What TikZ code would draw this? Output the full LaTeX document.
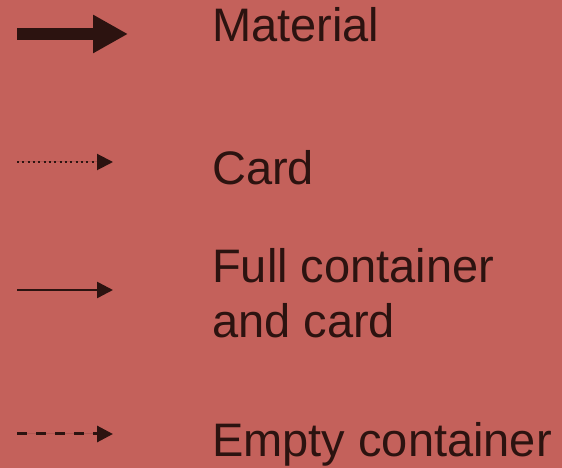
\documentclass[tikz,border=0pt]{standalone}
\usepackage{fontspec}
\setmainfont{Liberation Sans}
\usetikzlibrary{arrows.meta}
\definecolor{bgred}{HTML}{C4615B}
\definecolor{ink}{HTML}{2C1310}
\begin{document}
\begin{tikzpicture}[x=1pt,y=1pt,
  legendtext/.style={anchor=base west,inner sep=0pt,text=ink,align=left,
    font=\fontsize{47}{55}\selectfont},
  smallhead/.style={-{Triangle[length=16pt,width=16pt]}},
  flowline/.style={draw=ink,fill=ink}]
  % background
  \fill[bgred] (0,0) rectangle (562,468);
  \useasboundingbox (0,0) rectangle (562,468);

  % arrow end points
  \coordinate (mat0) at (17,434);
  \coordinate (mat1) at (128,434);
  \coordinate (card0) at (17,306);
  \coordinate (card1) at (113,306);
  \coordinate (full0) at (17,178);
  \coordinate (full1) at (113,178);
  \coordinate (empty0) at (17,34);
  \coordinate (empty1) at (113,34);

  % material flow: thick arrow
  \draw[flowline,line width=12pt,-{Triangle[length=35pt,width=36pt]}] (mat0) -- (mat1);
  % card flow: dotted
  \draw[flowline,smallhead,line width=2pt,dash pattern=on 2pt off 3.33pt] (card0) -- (card1);
  % full container and card: solid
  \draw[flowline,smallhead,line width=2.5pt] (full0) -- (full1);
  % empty container: dashed
  \draw[flowline,smallhead,line width=3pt,dash pattern=on 10pt off 9pt] (empty0) -- (empty1);

  % labels (base anchor of a two-line node sits on its last line)
  \node[legendtext] (lmat) at (212,426) {Material};
  \node[legendtext] (lcard) at (212,283) {Card};
  \node[legendtext] (lfull) at (212,130) {Full container\\and card};
  \node[legendtext] (lempty) at (212,11) {Empty container};
\end{tikzpicture}
\end{document}
